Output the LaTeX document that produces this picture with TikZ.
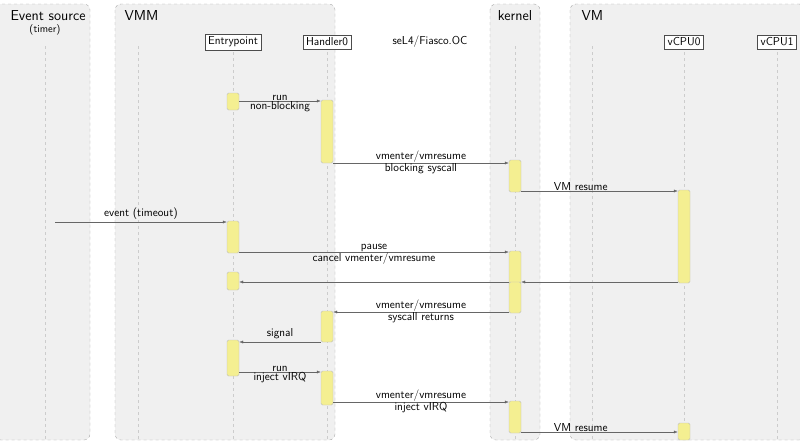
\documentclass[tikz,border=0pt]{standalone}
\usetikzlibrary{arrows.meta}
\begin{document}
\begin{tikzpicture}[x=1pt,y=-1pt,font=\sffamily,
  grp/.style={draw=gray!70,dashed,fill=gray!12,rounded corners=6pt},
  life/.style={draw=gray!40,dashed},
  head/.style={draw=black!70,fill=white,font=\sffamily\fontsize{11.5}{13}\selectfont,inner sep=3pt},
  act/.style={draw=gray!50,fill=yellow!45!white!90!gray,rounded corners=1.5pt},
  msg/.style={draw=gray!80!black,-{Latex[length=4pt,width=3pt]}},
  lab/.style={font=\sffamily\fontsize{11.5}{13}\selectfont,align=center,inner sep=0.5pt}]
\useasboundingbox (0,0) rectangle (800,442);
\draw[grp] (-5,4) rectangle (90,440);
\draw[grp] (115,4) rectangle (335,440);
\draw[grp] (490,4) rectangle (540,440);
\draw[grp] (570,4) rectangle (805,440);
\node[anchor=west,font=\sffamily\Large] (t1) at (7,16) {Event source};
\node[font=\sffamily\fontsize{10.5}{12}\selectfont] (t1b) at (45,30) {(timer)};
\node[anchor=west,font=\sffamily\Large] (t2) at (121,16) {VMM};
\node[font=\sffamily\Large] (t3) at (515,16) {kernel};
\node[anchor=west,font=\sffamily\Large] (t4) at (578,16) {VM};
\node[font=\sffamily\fontsize{11.5}{13}\selectfont] (os) at (430,42) {seL4/Fiasco.OC};
\foreach \x in {45,138,233,327,515,592,684,777} \draw[life] (\x,46) -- (\x,440);
\node[head] (he) at (233,42) {Entrypoint};
\node[head] (hh) at (327,42) {Handler0};
\node[head] (hv0) at (684,42) {vCPU0};
\node[head] (hv1) at (777,42) {vCPU1};
\newcommand\actv[4]{\node[act,minimum width=12pt,minimum height={#4-#3},inner sep=0pt] (#1) at (#2,{(#3+#4)/2}) {};}
\actv{e1}{233}{93}{110}
\actv{e2}{233}{221}{253}
\actv{e3}{233}{272}{290}
\actv{e4}{233}{340}{376}
\actv{h1}{327}{100}{163}
\actv{h2}{327}{311}{342}
\actv{h3}{327}{371}{405}
\actv{k1}{515}{160}{192}
\actv{k2}{515}{251}{284}
\actv{k3}{515}{282}{313}
\actv{k4}{515}{401}{433}
\actv{v1}{684}{190}{283}
\actv{v2}{684}{423}{440}
\coordinate (src) at (55,222);
\draw[msg] (e1.east |- 0,101) -- node[lab,above]{run} node[lab,below]{non-blocking} (h1.west |- 0,101);
\draw[msg] (h1.east |- 0,163) -- node[lab,above]{vmenter/vmresume} node[lab,below]{blocking syscall} (k1.west |- 0,163);
\draw[msg] (k1.east |- 0,191) -- node[lab,above,pos=0.38]{VM resume} (v1.west |- 0,191);
\draw[msg] (src) -- node[lab,above=2pt]{event (timeout)} (e2.west |- src);
\draw[msg] (e2.east |- 0,252) -- node[lab,above]{pause} node[lab,below]{cancel vmenter/vmresume} (k2.west |- 0,252);
\draw[msg] (v1.west |- 0,282) -- (k3.east |- 0,282);
\draw[msg] (k3.west |- 0,282) -- (e3.east |- 0,282);
\draw[msg] (k3.west |- 0,312) -- node[lab,above]{vmenter/vmresume} node[lab,below]{syscall returns} (h2.east |- 0,312);
\draw[msg] (h2.west |- 0,342) -- node[lab,above=2pt]{signal} (e4.east |- 0,342);
\draw[msg] (e4.east |- 0,372) -- node[lab,above]{run} node[lab,below]{inject vIRQ} (h3.west |- 0,372);
\draw[msg] (h3.east |- 0,402) -- node[lab,above]{vmenter/vmresume} node[lab,below]{inject vIRQ} (k4.west |- 0,402);
\draw[msg] (k4.east |- 0,432) -- node[lab,above,pos=0.38]{VM resume} (v2.west |- 0,432);
\end{tikzpicture}
\end{document}
